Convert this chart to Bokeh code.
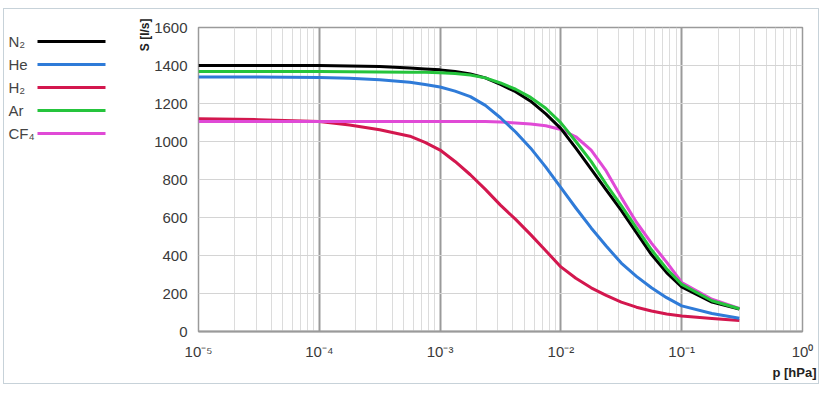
from bokeh.plotting import figure
from bokeh.layouts import row
from bokeh.models import Title, FixedTicker, CustomJSTickFormatter, Range1d
from bokeh.core.properties import value
from bokeh.embed import file_html
from bokeh.resources import INLINE

# ---- data ----
pressure_hpa = [1e-5, 3.16e-5, 1e-4, 1.78e-4, 3.16e-4, 5.62e-4, 7.5e-4, 1e-3, 1.33e-3, 1.78e-3,
                2.37e-3, 3.16e-3, 4.22e-3, 5.62e-3, 7.5e-3, 1e-2, 1.33e-2, 1.78e-2, 2.37e-2,
                3.16e-2, 4.22e-2, 5.62e-2, 7.5e-2, 0.1, 0.178, 0.3]
s_n2 = [1400, 1400, 1400, 1398, 1395, 1387, 1382, 1377, 1368, 1355, 1335, 1300, 1262, 1212,
        1145, 1068, 965, 855, 745, 637, 520, 405, 310, 235, 155, 118]
s_he = [1340, 1340, 1337, 1333, 1325, 1312, 1300, 1287, 1265, 1236, 1190, 1125, 1050, 965,
        865, 757, 650, 545, 450, 360, 290, 230, 178, 135, 95, 70]
s_h2 = [1120, 1115, 1105, 1087, 1062, 1028, 995, 955, 895, 825, 748, 665, 590, 510,
        425, 340, 280, 230, 190, 155, 128, 108, 92, 82, 68, 58]
s_ar = [1368, 1368, 1368, 1367, 1366, 1365, 1364, 1362, 1358, 1350, 1335, 1308, 1275, 1232,
        1175, 1098, 1000, 895, 775, 663, 545, 430, 330, 248, 162, 120]
s_cf4 = [1105, 1105, 1105, 1105, 1105, 1105, 1105, 1105, 1105, 1105, 1105, 1103, 1098, 1092,
         1083, 1063, 1025, 955, 845, 706, 575, 465, 365, 258, 170, 122]

gas_labels = ["N\u2082", "He", "H\u2082", "Ar", "CF\u2084"]
gas_series = [s_n2, s_he, s_h2, s_ar, s_cf4]
gas_colors = ["#000000", "#2f7bd8", "#d3174e", "#25c43c", "#e04ad6"]
draw_order = [2, 4, 1, 0, 3]

x_tick_values = [1e-5, 1e-4, 1e-3, 1e-2, 1e-1, 1e0]
x_tick_labels = ["10\u207b\u2075", "10\u207b\u2074", "10\u207b\u00b3", "10\u207b\u00b2", "10\u207b\u00b9", "10\u2070"]
y_tick_values = [0, 200, 400, 600, 800, 1000, 1200, 1400, 1600]

# ---- layout (px, relative to the inside of the outer box) ----
H = 374
LW = 131          # legend strip
MW = 683          # main chart
FL, FR, FT, FB = 192, 798, 18, 322   # frame edges relative to the box
BOX_X, BOX_Y = 4, 9                  # page offset of the box interior

# legend strip (labels left, line samples right); its frame is aligned with the
# main frame by the row layout, so y is expressed in page pixels
lg = figure(width=LW, height=H, x_range=Range1d(0, LW),
            y_range=Range1d(BOX_Y + FB, BOX_Y + FT),
            output_backend="svg", toolbar_location=None, min_border=0,
            x_axis_location=None, y_axis_location=None)
lg.outline_line_color = None
lg.background_fill_color = "white"
lg.border_fill_color = "white"
lg.xgrid.visible = False
lg.ygrid.visible = False
leg_y = [41, 64, 87, 110, 133]
lg.text(x=[4] * len(gas_labels), y=leg_y, text=gas_labels, text_baseline="middle",
        text_align="left", text_font=value("Liberation Sans"), text_font_size="15px",
        text_color="#444444")
lg.segment(x0=[33] * len(gas_labels), y0=leg_y, x1=[101] * len(gas_labels), y1=leg_y,
           line_color=gas_colors, line_width=3)

# main chart
p = figure(width=MW, height=H, x_axis_type="log", x_range=(1e-5, 1), y_range=(0, 1600),
           output_backend="svg", toolbar_location=None,
           min_border_left=FL - LW, min_border_right=LW + MW - FR,
           min_border_top=FT, min_border_bottom=H - FB)
p.background_fill_color = "white"
p.border_fill_color = "white"
p.outline_line_color = "#9a9a9a"
p.outline_line_width = 1.5

minor = [m * d for d in x_tick_values[:-1] for m in range(2, 10)]
p.xaxis.ticker = FixedTicker(ticks=x_tick_values, minor_ticks=minor)
p.xaxis.formatter = CustomJSTickFormatter(args=dict(tvals=x_tick_values, tlabels=x_tick_labels), code="""
let best = 0, bd = Infinity;
for (let i = 0; i < tvals.length; i++) {
  const d = Math.abs(Math.log10(tvals[i]) - Math.log10(tick));
  if (d < bd) { bd = d; best = i; }
}
return tlabels[best];
""")
p.yaxis.ticker = FixedTicker(ticks=y_tick_values)

for ax in (p.xaxis[0], p.yaxis[0]):
    ax.major_tick_line_color = None
    ax.minor_tick_line_color = None
    ax.major_label_text_font = "Liberation Sans"
    ax.major_label_text_color = "#3a3a3a"
    ax.major_label_text_font_size = "15px"
p.xaxis.axis_line_color = "#9a9a9a"
p.xaxis.axis_line_width = 2
p.yaxis.axis_line_color = None
p.xaxis.major_label_standoff = 5
p.yaxis.major_label_standoff = 5

p.xgrid.grid_line_color = "#9a9a9a"
p.xgrid.grid_line_width = 2
p.xgrid.minor_grid_line_color = "#dcdcdc"
p.xgrid.minor_grid_line_width = 1
p.ygrid.grid_line_color = "#d4d4d4"
p.ygrid.grid_line_width = 1

for i in draw_order:
    p.line(pressure_hpa, gas_series[i], line_color=gas_colors[i], line_width=3, line_join="round")

p.add_layout(Title(text="S [l/s]", align="right", text_font="Liberation Sans", text_font_style="bold",
                   text_font_size="12px", text_color="#222222", standoff=0, offset=-9), "left")
p.add_layout(Title(text="p [hPa]", align="right", text_font="Liberation Sans", text_font_style="bold",
                   text_font_size="13px", text_color="#222222", standoff=0, offset=-14), "below")

layout = row(lg, p, margin=(8, 0, 0, 3),
             styles={"border": "1px solid #c7d2d9", "background": "white"})

open("out.html", "w").write(file_html(layout, INLINE))
